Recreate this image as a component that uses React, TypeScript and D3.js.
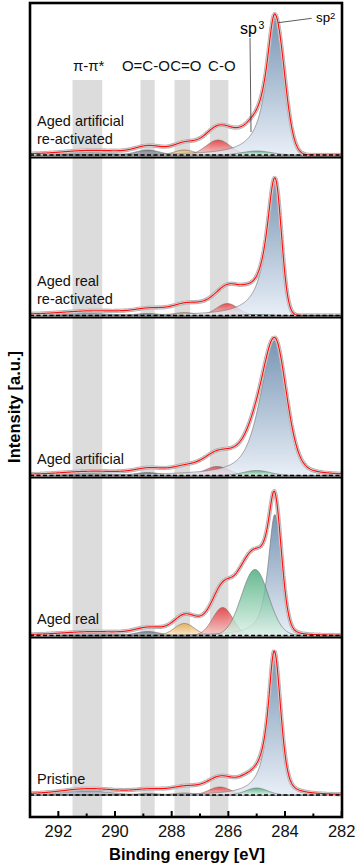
import React, { useEffect, useRef } from 'react';
import * as d3 from 'd3';

// samples, top to bottom
const samples = [['Aged artificial', 're-activated'], ['Aged real', 're-activated'], ['Aged artificial'], ['Aged real'], ['Pristine']];

// reference bands
const bandLabels = ['π-π*', 'O=C-O', 'C=O', 'C-O'];
const bandFrom = [291.5, 289.1, 287.9, 286.65];
const bandTo = [290.45, 288.6, 287.35, 286.0];
const bandLabelAt = [290.93, 288.91, 287.5, 286.23];

const xTicks = [292, 290, 288, 286, 284, 282];
const xMinorTicks = [291, 289, 287, 285, 283];

// fitted components (heights in a.u., centres / half widths in eV), one value per sample
const piCenter = 291.0;
const piWidth = 1.0;
const piHeight = [2.5, 2, 2, 2, 4];

const ocoCenter = 288.85;
const ocoWidth = 0.5;
const ocoHeight = [5, 2, 3, 4, 1.5];

const c2oCenter = 287.55;
const c2oWidth = 0.42;
const c2oHeight = [5, 3, 2, 12, 2];

const coCenter = [286.36, 286.04, 286.4, 286.2, 286.3];
const coWidth = [0.5, 0.45, 0.5, 0.42, 0.45];
const coHeight = [15, 12, 9, 28, 8];

const sp3Center = [285.0, 285.0, 285.0, 285.06, 285.0];
const sp3Width = [0.6, 0.6, 0.55, 0.56, 0.45];
const sp3Height = [4, 1, 5, 66, 7];

const sp2Center = [284.36, 284.36, 284.36, 284.36, 284.38];
const sp2WidthHigh = [0.35, 0.35, 0.6, 0.28, 0.26];
const sp2WidthLow = [0.39, 0.27, 0.49, 0.28, 0.27];
const sp2TailHigh = [1, 1, 0.6, 0.8, 1];
const sp2TailLow = [0, 0, 0.3, 0.2, 0.4];
const sp2Height = [138, 137, 135, 121, 142];

const bgCenter = [285.3, 285.5, 285.3, 285.7, 285.6];
const bgWidth = [2.2, 2.4, 2.2, 1.5, 3];
const bgHeight = [13, 14, 12, 22, 9];

const colors: Record<string, [string, string]> = {
  pi: ['#8794aa', '#c9d0dc'],
  oco: ['#5d6474', '#aab0bc'],
  c2o: ['#e9a640', '#fbeacb'],
  co: ['#e8282c', '#f7cbc7'],
  sp3: ['#3da673', '#dbf1e6'],
  sp2: ['#52789f', '#e2eaf5'],
};

const pv = (e, c, h, wHi, wLo, mHi, mLo) => {
  const d = e - c;
  const w = d >= 0 ? wHi : wLo;
  const m = d >= 0 ? mHi : mLo;
  const t = (d / w) * (d / w);
  return h * ((1 - m) * Math.exp(-Math.LN2 * t) + m / (1 + t));
};

const App = () => {
  const ref = useRef(null);

  useEffect(() => {
    const svg = d3.select(ref.current);
    svg.selectAll('*').remove();
    const font = 'Arial, "Liberation Sans", sans-serif';

    const x = d3.scaleLinear().domain([293, 282]).range([30, 341.7]);
    const tops = [3, 157.5, 317.5, 477.5, 637.5];
    const bottoms = [157.5, 317.5, 477.5, 637.5, 817];
    const bases = [155, 315.5, 475.5, 635.5, 795];
    const energies = d3.range(0, 551).map(k => 293 - k * 0.02);

    const defs = svg.append('defs');
    Object.keys(colors).forEach(k => {
      const g = defs.append('linearGradient').attr('id', 'g-' + k)
        .attr('x1', 0).attr('y1', 0).attr('x2', 0).attr('y2', 1);
      g.append('stop').attr('offset', '0%').attr('stop-color', colors[k][0]);
      g.append('stop').attr('offset', '100%').attr('stop-color', colors[k][1]);
    });

    // grey bands
    bandFrom.forEach((f, i) => {
      svg.append('rect')
        .attr('x', x(f)).attr('width', x(bandTo[i]) - x(f))
        .attr('y', 80).attr('height', 817 - 80)
        .attr('fill', '#dcdcdc');
    });

    samples.forEach((lines, i) => {
      const y = d3.scaleLinear().domain([0, 150]).range([bases[i], bases[i] - 150]);
      defs.append('clipPath').attr('id', 'clip' + i)
        .append('rect').attr('x', 30).attr('y', tops[i]).attr('width', 312).attr('height', bottoms[i] - tops[i]);
      const g = svg.append('g').attr('clip-path', `url(#clip${i})`);

      const comps = [
        { k: 'pi', f: e => pv(e, piCenter, piHeight[i], piWidth, piWidth, 0, 0) },
        { k: 'oco', f: e => pv(e, ocoCenter, ocoHeight[i], ocoWidth, ocoWidth, 0, 0) },
        { k: 'c2o', f: e => pv(e, c2oCenter, c2oHeight[i], c2oWidth, c2oWidth, 0, 0) },
        { k: 'co', f: e => pv(e, coCenter[i], coHeight[i], coWidth[i], coWidth[i], 0, 0) },
        { k: 'sp2', f: e => pv(e, sp2Center[i], sp2Height[i], sp2WidthHigh[i], sp2WidthLow[i], sp2TailHigh[i], sp2TailLow[i]) },
        { k: 'sp3', f: e => pv(e, sp3Center[i], sp3Height[i], sp3Width[i], sp3Width[i], 0, 0) },
      ];
      const bg = e => pv(e, bgCenter[i], bgHeight[i], bgWidth[i], 0.5, 1, 0);

      const area = d3.area<[number, number]>().x(d => x(d[0])).y0(y(0)).y1(d => y(d[1]));
      const line = d3.line<[number, number]>().x(d => x(d[0])).y(d => y(d[1]));

      comps.forEach(c => {
        const pts = energies.map(e => [e, c.f(e)] as [number, number]);
        g.append('path').attr('d', area(pts))
          .attr('fill', `url(#g-${c.k})`).attr('fill-opacity', 0.78);
        g.append('path').attr('d', line(pts))
          .attr('fill', 'none').attr('stroke', '#6e6e6e').attr('stroke-width', 0.6);
      });

      const env = energies.map(e => [e, bg(e) + d3.sum(comps, c => c.f(e))] as [number, number]);
      // measured points
      g.append('path').attr('d', line(env))
        .attr('fill', 'none').attr('stroke', '#b4b4b4').attr('stroke-width', 4.4)
        .attr('stroke-dasharray', '0 2.2').attr('stroke-linecap', 'round');
      g.append('path').attr('d', line(env))
        .attr('fill', 'none').attr('stroke', '#e6e6e6').attr('stroke-width', 2.2);
      g.append('path').attr('d', line(env))
        .attr('fill', 'none').attr('stroke', '#ff1010').attr('stroke-width', 1.2);

      g.append('line').attr('x1', 30).attr('x2', 342).attr('y1', y(0)).attr('y2', y(0))
        .attr('stroke', '#000').attr('stroke-width', 1.6).attr('stroke-dasharray', '4 2.5');

      lines.forEach((t, j) => {
        svg.append('text').attr('x', 37).attr('y', bases[i] - 11.5 - (lines.length - 1 - j) * 18)
          .attr('font-family', font).attr('font-size', 14.5).attr('fill', '#111').text(t);
      });

      if (i < samples.length - 1) {
        svg.append('line').attr('x1', 30).attr('x2', 342).attr('y1', bottoms[i]).attr('y2', bottoms[i])
          .attr('stroke', '#000').attr('stroke-width', 2);
      }
    });

    // frame
    svg.append('rect').attr('x', 30).attr('y', 3).attr('width', 312).attr('height', 814)
      .attr('fill', 'none').attr('stroke', '#000').attr('stroke-width', 2.6);

    // ticks (inward)
    xTicks.forEach(t => {
      svg.append('line').attr('x1', x(t)).attr('x2', x(t)).attr('y1', 817).attr('y2', 811)
        .attr('stroke', '#000').attr('stroke-width', 2);
      svg.append('text').attr('x', x(t)).attr('y', 837).attr('text-anchor', 'middle')
        .attr('font-family', font).attr('font-size', 16.5).attr('fill', '#111').text(t);
    });
    xMinorTicks.forEach(t => {
      svg.append('line').attr('x1', x(t)).attr('x2', x(t)).attr('y1', 817).attr('y2', 813.5)
        .attr('stroke', '#000').attr('stroke-width', 2);
    });

    svg.append('text').attr('x', 187).attr('y', 860).attr('text-anchor', 'middle')
      .attr('font-family', font).attr('font-size', 16.5).attr('font-weight', 'bold').text('Binding energy [eV]');
    svg.append('text').attr('transform', 'translate(20,407) rotate(-90)').attr('text-anchor', 'middle')
      .attr('font-family', font).attr('font-size', 16.5).attr('font-weight', 'bold').text('Intensity [a.u.]');

    bandLabels.forEach((t, i) => {
      svg.append('text').attr('x', x(bandLabelAt[i])).attr('y', 71).attr('text-anchor', 'middle')
        .attr('font-family', font).attr('font-size', 15).attr('fill', '#111').text(t);
    });

    // sp3 / sp2 labels
    svg.append('text').attr('x', 240).attr('y', 33.5).attr('font-family', font).attr('font-size', 16).text('sp');
    svg.append('text').attr('x', 258.5).attr('y', 29).attr('font-family', font).attr('font-size', 10.5).text('3');
    svg.append('line').attr('x1', 250).attr('y1', 38).attr('x2', 251).attr('y2', 132)
      .attr('stroke', '#333').attr('stroke-width', 0.8);
    svg.append('text').attr('x', 316).attr('y', 21.7).attr('font-family', font).attr('font-size', 13.3).text('sp');
    svg.append('text').attr('x', 330).attr('y', 19.3).attr('font-family', font).attr('font-size', 9.5).text('2');
    svg.append('line').attr('x1', 278.3).attr('y1', 22.7).attr('x2', 311.7).attr('y2', 18.3)
      .attr('stroke', '#333').attr('stroke-width', 0.8);
  }, []);

  return (
    <svg ref={ref} width={358} height={867}
      style={{ position: 'absolute', left: 0, top: 0, background: '#fff' }} />
  );
};

export default App;
